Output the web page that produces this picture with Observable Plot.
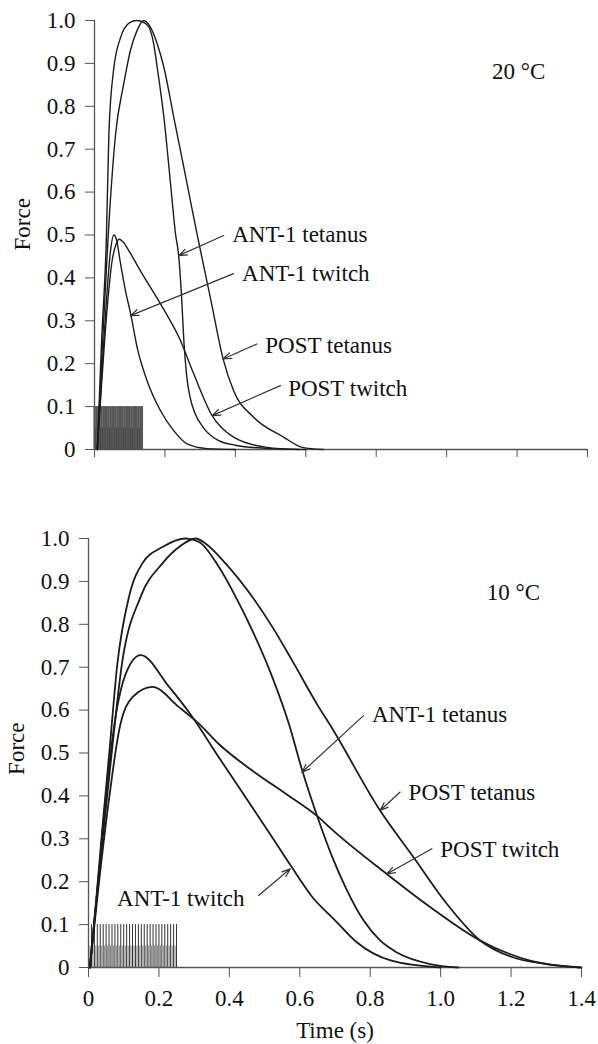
<!DOCTYPE html>
<html>
<head>
<meta charset="utf-8">
<script src="https://cdn.jsdelivr.net/npm/d3@7"></script>
<script src="https://cdn.jsdelivr.net/npm/@observablehq/plot@0.6"></script>
<style>
  html, body { margin: 0; padding: 0; background: #fff; }
  #chart { width: 598px; }
  #chart svg, #chart svg text { font-family: "Liberation Serif", "Times New Roman", Times, "DejaVu Serif", serif !important; }
</style>
</head>
<body>
<div id="chart"></div>
<script>
// ---------- axis ticks ----------
const yTicks = [0, 0.1, 0.2, 0.3, 0.4, 0.5, 0.6, 0.7, 0.8, 0.9, 1.0];
const xTicks = [0, 0.2, 0.4, 0.6, 0.8, 1.0, 1.2, 1.4];

// ---------- 20 °C panel ----------
const t20_ant1Tet = [0.008, 0.020, 0.034, 0.041, 0.055, 0.074, 0.100, 0.120, 0.149, 0.168, 0.178, 0.197, 0.216, 0.230, 0.239, 0.247, 0.254, 0.262, 0.272, 0.285, 0.310, 0.350, 0.400, 0.50, 0.60];
const f20_ant1Tet = [0.00, 0.25, 0.50, 0.74, 0.89, 0.96, 0.995, 1.00, 0.99, 0.946, 0.891, 0.775, 0.619, 0.503, 0.452, 0.36, 0.25, 0.17, 0.12, 0.085, 0.05, 0.022, 0.01, 0.002, 0.0];

const t20_postTet = [0.008, 0.020, 0.045, 0.060, 0.083, 0.102, 0.121, 0.140, 0.159, 0.178, 0.197, 0.225, 0.263, 0.291, 0.330, 0.365, 0.395, 0.452, 0.537, 0.59, 0.65];
const f20_postTet = [0.00, 0.20, 0.58, 0.736, 0.852, 0.93, 0.977, 1.00, 0.984, 0.946, 0.891, 0.775, 0.619, 0.503, 0.35, 0.212, 0.137, 0.075, 0.029, 0.005, 0.0];

const t20_ant1Tw = [0.008, 0.020, 0.035, 0.045, 0.055, 0.062, 0.074, 0.088, 0.103, 0.121, 0.149, 0.187, 0.225, 0.263, 0.32, 0.40];
const f20_ant1Tw = [0.00, 0.17, 0.36, 0.46, 0.50, 0.49, 0.433, 0.37, 0.315, 0.238, 0.161, 0.091, 0.044, 0.013, 0.002, 0.0];

const t20_postTw = [0.008, 0.020, 0.035, 0.050, 0.062, 0.069, 0.080, 0.100, 0.130, 0.187, 0.244, 0.282, 0.334, 0.395, 0.49, 0.58];
const f20_postTw = [0.00, 0.15, 0.32, 0.44, 0.48, 0.49, 0.485, 0.46, 0.417, 0.34, 0.254, 0.176, 0.079, 0.029, 0.005, 0.0];

const topPulses = [0, 0.005, 0.010, 0.015, 0.020, 0.025, 0.030, 0.035, 0.040, 0.045, 0.050, 0.055, 0.060, 0.065, 0.070, 0.075, 0.080, 0.085, 0.090, 0.095, 0.100, 0.105, 0.110, 0.115, 0.120, 0.125, 0.130, 0.135];
const topPulsesLow = [0.0025, 0.0075, 0.0125, 0.0175, 0.0225, 0.0275, 0.0325, 0.0375, 0.0425, 0.0475, 0.0525, 0.0575, 0.0625, 0.0675, 0.0725, 0.0775, 0.0825, 0.0875, 0.0925, 0.0975, 0.1025, 0.1075, 0.1125, 0.1175, 0.1225, 0.1275, 0.1325];

const topLabels = ["ANT-1 tetanus", "ANT-1 twitch", "POST tetanus", "POST twitch"];
const topLabelT = [0.391, 0.419, 0.485, 0.550];
const topLabelF = [0.500, 0.411, 0.241, 0.143];
const topArrowFromT = [0.367, 0.395, 0.461, 0.528];
const topArrowFromF = [0.499, 0.410, 0.246, 0.149];
const topArrowToT = [0.239, 0.102, 0.365, 0.334];
const topArrowToF = [0.452, 0.312, 0.211, 0.079];
const topTemp = "20 °C";
const topTempT = 1.129, topTempF = 0.88;

// ---------- 10 °C panel ----------
const t10_ant1Tet = [0.004, 0.020, 0.040, 0.059, 0.082, 0.115, 0.153, 0.210, 0.276, 0.314, 0.370, 0.418, 0.465, 0.522, 0.569, 0.607, 0.654, 0.690, 0.734, 0.781, 0.828, 0.876, 0.970, 1.05];
const f10_ant1Tet = [0.00, 0.14, 0.33, 0.50, 0.708, 0.864, 0.942, 0.98, 1.00, 0.992, 0.934, 0.864, 0.786, 0.677, 0.568, 0.459, 0.342, 0.262, 0.18, 0.11, 0.063, 0.035, 0.008, 0.0];

const t10_postTet = [0.004, 0.030, 0.062, 0.095, 0.148, 0.210, 0.257, 0.304, 0.333, 0.389, 0.465, 0.522, 0.578, 0.654, 0.690, 0.828, 0.923, 1.018, 1.112, 1.20, 1.30, 1.40];
const f10_postTet = [0.00, 0.22, 0.47, 0.708, 0.864, 0.942, 0.98, 1.00, 0.988, 0.942, 0.864, 0.794, 0.716, 0.607, 0.56, 0.366, 0.257, 0.148, 0.063, 0.025, 0.008, 0.0];

const t10_ant1Tw = [0.004, 0.025, 0.049, 0.078, 0.106, 0.148, 0.229, 0.295, 0.370, 0.446, 0.522, 0.578, 0.635, 0.700, 0.760, 0.860, 1.00];
const f10_ant1Tw = [0.00, 0.18, 0.397, 0.59, 0.685, 0.728, 0.654, 0.584, 0.49, 0.397, 0.303, 0.233, 0.165, 0.11, 0.06, 0.016, 0.0];

const t10_postTw = [0.004, 0.030, 0.059, 0.087, 0.125, 0.181, 0.257, 0.314, 0.370, 0.465, 0.560, 0.654, 0.687, 0.847, 0.970, 1.112, 1.254, 1.396];
const f10_postTw = [0.00, 0.20, 0.397, 0.553, 0.63, 0.654, 0.607, 0.568, 0.521, 0.459, 0.405, 0.35, 0.325, 0.218, 0.141, 0.063, 0.016, 0.0];

const bottomPulses = [0, 0.0083, 0.0167, 0.025, 0.0333, 0.0417, 0.05, 0.0583, 0.0667, 0.075, 0.0833, 0.0917, 0.1, 0.1083, 0.1167, 0.125, 0.1333, 0.1417, 0.15, 0.1583, 0.1667, 0.175, 0.1833, 0.1917, 0.2, 0.2083, 0.2167, 0.225, 0.2333, 0.2417, 0.25];
const bottomPulsesLow = [0.0042, 0.0125, 0.0208, 0.0292, 0.0375, 0.0458, 0.0542, 0.0625, 0.0708, 0.0792, 0.0875, 0.0958, 0.1042, 0.1125, 0.1208, 0.1292, 0.1375, 0.1458, 0.1542, 0.1625, 0.1708, 0.1792, 0.1875, 0.1958, 0.2042, 0.2125, 0.2208, 0.2292, 0.2375, 0.2458];

const bottomLabels = ["ANT-1 tetanus", "POST tetanus", "POST twitch", "ANT-1 twitch"];
const bottomLabelT = [0.805, 0.909, 0.999, 0.081];
const bottomLabelF = [0.590, 0.407, 0.275, 0.160];
const bottomArrowFromT = [0.781, 0.885, 0.975, 0.483];
const bottomArrowFromF = [0.587, 0.409, 0.277, 0.168];
const bottomArrowToT = [0.606, 0.828, 0.847, 0.573];
const bottomArrowToF = [0.455, 0.366, 0.218, 0.230];
const bottomTemp = "10 °C";
const bottomTempT = 1.131, bottomTempF = 0.873;

const xLabel = "Time (s)";
const yLabel = "Force";

// ---------- helpers ----------
const FONT = "'Liberation Serif', 'Times New Roman', Times, 'DejaVu Serif', serif";
const FS = 23;
const fmt = d => d === 0 ? "0" : d.toFixed(1);
const series = (ts, fs, name) => ts.map((t, i) => ({t, f: fs[i], series: name}));
const labelRows = (labels, ts, fs) => labels.map((l, i) => ({label: l, t: ts[i], f: fs[i]}));
const arrowRows = (t1, f1, t2, f2) => t1.map((_, i) => ({t1: t1[i], f1: f1[i], t2: t2[i], f2: f2[i]}));

function panel(opts) {
  const {curves, pulses, pulsesLow, pulseMainStroke, pulseLowStroke, pulseWidth, labels, arrows, temp, yLabelF,
         height, marginTop, marginBottom, marginLeft, marginRight, showX, lineWidth} = opts;
  const marks = [
    Plot.ruleX(pulsesLow, {x: d => d, y1: 0, y2: 0.05, stroke: pulseLowStroke, strokeWidth: pulseWidth}),
    Plot.ruleX(pulses, {x: d => d, y1: 0, y2: 0.1, stroke: pulseMainStroke, strokeWidth: pulseWidth}),
    Plot.ruleX([0], {y1: 0, y2: 1, stroke: "#555", strokeWidth: 1.3}),
    Plot.ruleY([0], {x1: 0, x2: 1.4, stroke: "#555", strokeWidth: 1.3}),
    Plot.axisY({ticks: yTicks, tickSize: 9, tickPadding: 10, tickFormat: fmt, label: null, stroke: "#555", fill: "#111", fontFamily: FONT, fontSize: FS}),
    Plot.axisX({ticks: xTicks, tickSize: showX ? 10 : 8, tickPadding: 12, tickFormat: showX ? fmt : () => "", label: null, stroke: "#555", fill: "#111", fontFamily: FONT, fontSize: FS}),
    Plot.line(curves, {x: "t", y: "f", z: "series", curve: "monotone-x", stroke: "#1c1c1c", strokeWidth: lineWidth}),
    Plot.arrow(arrows, {x1: "t1", y1: "f1", x2: "t2", y2: "f2", stroke: "#333", strokeWidth: 1.2, headLength: 11, headAngle: 40}),
    Plot.text(labels, {x: "t", y: "f", text: "label", textAnchor: "start", lineAnchor: "middle", fontSize: FS, fontFamily: FONT, fill: "#111"}),
    Plot.text([temp.label], {x: temp.t, y: temp.f, textAnchor: "start", lineAnchor: "middle", fontSize: FS, fontFamily: FONT, fill: "#111"}),
    Plot.text([yLabel], {frameAnchor: "left", y: yLabelF, rotate: -90, dx: -72, lineAnchor: "middle", textAnchor: "middle", fontSize: FS, fontFamily: FONT, fill: "#111"})
  ];
  if (showX) {
    marks.push(Plot.text([xLabel], {frameAnchor: "bottom", dy: 63, lineAnchor: "middle", textAnchor: "middle", fontSize: FS, fontFamily: FONT, fill: "#111"}));
  }
  return Plot.plot({
    width: 598,
    height, marginTop, marginBottom, marginLeft, marginRight,
    x: {domain: [0, 1.4], label: null},
    y: {domain: [0, 1.0], label: null},
    style: {fontFamily: FONT, fontSize: FS + "px", background: "#fff", color: "#111", display: "block", overflow: "visible"},
    marks
  });
}

const topCurves = [
  ...series(t20_ant1Tet, f20_ant1Tet, "ANT-1 tetanus"),
  ...series(t20_postTet, f20_postTet, "POST tetanus"),
  ...series(t20_ant1Tw, f20_ant1Tw, "ANT-1 twitch"),
  ...series(t20_postTw, f20_postTw, "POST twitch")
];
const bottomCurves = [
  ...series(t10_ant1Tet, f10_ant1Tet, "ANT-1 tetanus"),
  ...series(t10_postTet, f10_postTet, "POST tetanus"),
  ...series(t10_ant1Tw, f10_ant1Tw, "ANT-1 twitch"),
  ...series(t10_postTw, f10_postTw, "POST twitch")
];

const chart = document.getElementById("chart");
chart.appendChild(panel({
  curves: topCurves, pulses: topPulses, pulsesLow: topPulsesLow,
  pulseMainStroke: "#555", pulseLowStroke: "#111", pulseWidth: 2,
  labels: labelRows(topLabels, topLabelT, topLabelF),
  arrows: arrowRows(topArrowFromT, topArrowFromF, topArrowToT, topArrowToF),
  temp: {label: topTemp, t: topTempT, f: topTempF}, yLabelF: 0.525,
  height: 470, marginTop: 20, marginBottom: 21, marginLeft: 94, marginRight: 11,
  showX: false, lineWidth: 1.4
}));
chart.appendChild(panel({
  curves: bottomCurves, pulses: bottomPulses, pulsesLow: bottomPulsesLow,
  pulseMainStroke: "#333", pulseLowStroke: "#888", pulseWidth: 1,
  labels: labelRows(bottomLabels, bottomLabelT, bottomLabelF),
  arrows: arrowRows(bottomArrowFromT, bottomArrowFromF, bottomArrowToT, bottomArrowToF),
  temp: {label: bottomTemp, t: bottomTempT, f: bottomTempF}, yLabelF: 0.51,
  height: 574, marginTop: 68, marginBottom: 77, marginLeft: 88, marginRight: 17,
  showX: true, lineWidth: 1.8
}));
</script>
</body>
</html>
